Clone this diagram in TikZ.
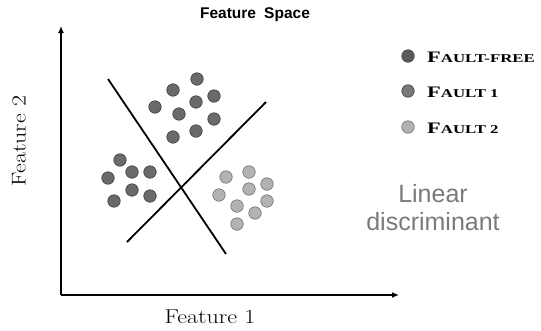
\documentclass[tikz,border=0pt]{standalone}
\usepackage{amsmath}
\usepackage{fontspec}
\usepackage{tikz}
\usetikzlibrary{arrows.meta}
\newfontfamily\arialfont{Liberation Sans}
\newfontfamily\caseriffont[FakeStretch=1.4]{Liberation Serif}
\newfontfamily\axisfont[FakeStretch=1.2]{Latin Modern Roman}
\definecolor{darkfill}{HTML}{6A6A6A}
\definecolor{darkedge}{HTML}{3C3C3C}
\definecolor{lightfill}{HTML}{B2B2B2}
\definecolor{lightedge}{HTML}{6E6E6E}
\definecolor{textgray}{HTML}{7A7A7A}
\newcommand{\legcaps}[2]{{\fontsize{16}{16}\selectfont #1}{\fontsize{12}{12}\selectfont #2}}

\begin{document}
\begin{tikzpicture}[x=1pt,y=-1pt,
		dot/.style={circle,draw,line width=0.6pt,minimum size=12.5pt,inner sep=0pt},
		darkdot/.style={dot,fill=darkfill,draw=darkedge},
		lightdot/.style={dot,fill=lightfill,draw=lightedge},
		legtext/.style={anchor=west,inner sep=0pt,font=\caseriffont\bfseries},
		axislabel/.style={font=\fontsize{20}{22}\selectfont\axisfont}]
		\useasboundingbox (0,0) rectangle (541,330);
		% axes
		\coordinate (origin) at (61,295);
		\coordinate (ytop) at (61,26);
		\coordinate (xend) at (399,295);
		\draw[line width=2pt,-{Latex[length=7pt,width=6pt]}] (origin) -- (ytop);
		\draw[line width=2pt,-{Latex[length=7pt,width=6pt]}] (origin) -- (xend);
		\node[font=\fontsize{15.5}{17}\selectfont\arialfont\bfseries] (title) at (255,15) {Feature\hspace{0.25em} Space};
		\node[axislabel] (xlabel) at (210,317) {Feature 1};
		\node[axislabel,rotate=90] (ylabel) at (19,141) {Feature 2};
		% discriminant lines
		\coordinate (la) at (108,79);
		\coordinate (lb) at (226,254);
		\coordinate (lc) at (127,242);
		\coordinate (ld) at (266,102);
		\draw[line width=1.8pt] (la) -- (lb);
		\draw[line width=1.8pt] (lc) -- (ld);
		% fault-free cluster
		\foreach \x/\y [count=\i] in {197/79,173/90,214/96,196/102,155/107,179/114,214/119,196/131,173/137}
			\node[darkdot] (ff\i) at (\x,\y) {};
		% fault 1 cluster
		\foreach \x/\y [count=\i] in {120/160,132/172,150/172,108/178,132/190,150/196,114/201}
			\node[darkdot] (fa\i) at (\x,\y) {};
		% fault 2 cluster
		\foreach \x/\y [count=\i] in {249/172,226/177,267/184,249/189,219/195,267/201,237/206,255/213,237/224}
			\node[lightdot] (fb\i) at (\x,\y) {};
		% legend
		\node[dot,fill=darkfill!85!black,draw=darkedge] (key1) at (408,56) {};
		\node[dot,fill=darkfill!90!white,draw=darkedge] (key2) at (408,91) {};
		\node[dot,fill=lightfill,draw=lightedge] (key3) at (408,127) {};
		\node[legtext] (lab1) at (427,57) {\legcaps{F}{AULT-FREE}};
		\node[legtext] (lab2) at (427,92) {\legcaps{F}{AULT 1}};
		\node[legtext] (lab3) at (427,128) {\legcaps{F}{AULT 2}};
		\node[align=center,text=textgray,font=\fontsize{25}{28}\selectfont\arialfont] (lindisc) at (433,208) {Linear\\discriminant};
	\end{tikzpicture}
\end{document}
